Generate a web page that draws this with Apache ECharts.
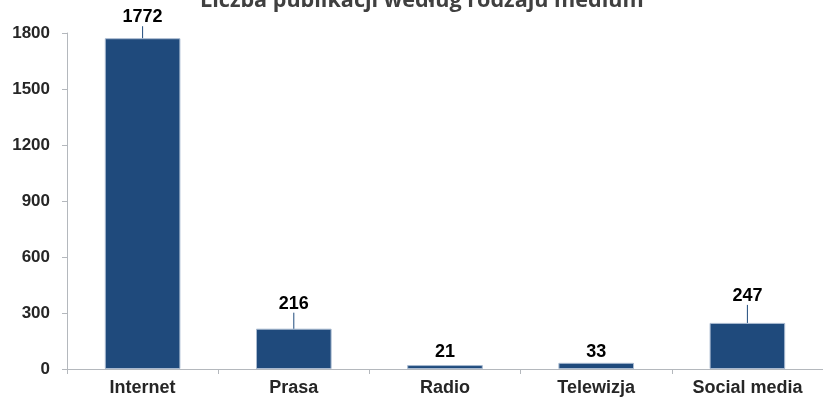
<!DOCTYPE html>
<html>
<head>
<meta charset="utf-8">
<script src="https://cdn.jsdelivr.net/npm/echarts@6/dist/echarts.min.js"></script>
<style>
  html, body { margin: 0; padding: 0; background: #fff; }
  #chart { width: 823px; height: 399px; }
</style>
</head>
<body>
<div id="chart"></div>
<script>
var categories = ['Internet', 'Prasa', 'Radio', 'Telewizja', 'Social media'];
var values = [1772, 216, 21, 33, 247];
var yTicks = [0, 300, 600, 900, 1200, 1500, 1800];

// przesunięcie etykiet nad słupkami (jak w oryginale z Excela)
var labelShift = [-12, -16, -4, -2, -18];
var showLeader = [true, true, false, false, true];

var chart = echarts.init(document.getElementById('chart'), null, { renderer: 'canvas' });

var barData = [];
for (var i = 0; i < values.length; i++) {
  barData.push({
    value: values[i],
    labelLine: { show: showLeader[i] }
  });
}

var option = {
  backgroundColor: '#ffffff',
  animation: false,
  title: {
    text: 'Liczba publikacji według rodzaju medium',
    left: 200,
    top: -10,
    padding: 0,
    textStyle: {
      fontFamily: 'Open Sans',
      fontWeight: 'bold',
      fontSize: 21.6,
      color: '#404040'
    }
  },
  grid: {
    left: 67,
    right: -4,
    top: 33,
    bottom: 30,
    containLabel: false
  },
  xAxis: {
    type: 'category',
    data: categories,
    axisLine: { lineStyle: { color: '#b4b8bd', width: 1 } },
    axisTick: { show: true, alignWithLabel: false, length: 5, lineStyle: { color: '#b4b8bd' } },
    axisLabel: {
      margin: 10,
      fontFamily: 'Liberation Sans',
      fontWeight: 'bold',
      fontSize: 18,
      color: '#262626'
    }
  },
  yAxis: {
    type: 'value',
    min: yTicks[0],
    max: yTicks[yTicks.length - 1],
    interval: yTicks[1] - yTicks[0],
    axisLine: { show: true, lineStyle: { color: '#b4b8bd', width: 1 } },
    axisTick: { show: true, length: 5, lineStyle: { color: '#b4b8bd' } },
    splitLine: { show: false },
    axisLabel: {
      margin: 17,
      fontFamily: 'Liberation Sans',
      fontWeight: 'bold',
      fontSize: 17,
      color: '#262626',
      formatter: function (v) { return String(v); }
    }
  },
  series: [{
    type: 'bar',
    data: barData,
    barWidth: '50%',
    itemStyle: {
      color: '#1f4a7c',
      borderColor: '#a9bad0',
      borderWidth: 1
    },
    label: {
      show: true,
      position: 'top',
      distance: 0,
      fontFamily: 'Liberation Sans',
      fontWeight: 'bold',
      fontSize: 18,
      color: '#000000'
    },
    labelLayout: function (params) {
      return { dy: labelShift[params.dataIndex] };
    },
    labelLine: {
      show: true,
      lineStyle: { color: '#1f4a7c', width: 1 }
    }
  }]
};

chart.setOption(option);
</script>
</body>
</html>
